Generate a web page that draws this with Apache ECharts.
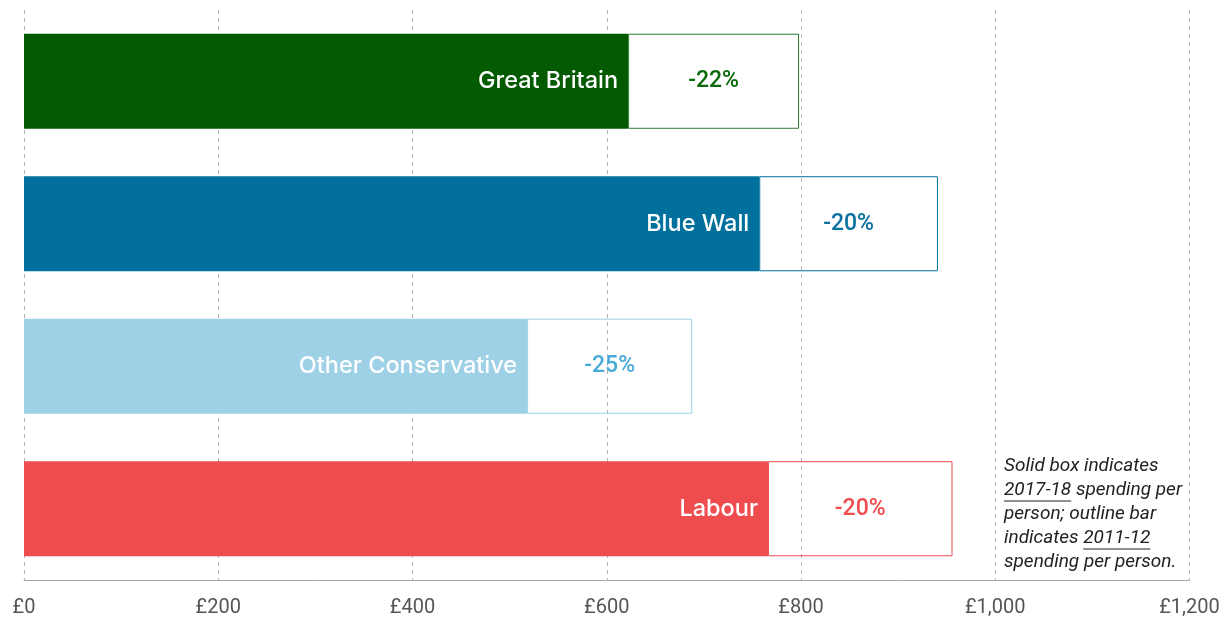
<!DOCTYPE html>
<html>
<head>
<meta charset="utf-8">
<style>
  html, body { margin: 0; padding: 0; background: #fff; }
  #chart { width: 1231px; height: 619px; }
</style>
<script src="https://cdn.jsdelivr.net/npm/echarts@6/dist/echarts.min.js"></script>
</head>
<body>
<div id="chart"></div>
<script>
// Spending per person (£) by area group
const categories = ['Great Britain', 'Blue Wall', 'Other Conservative', 'Labour'];
const spending2017 = [622, 757, 518, 766];   // solid box
const spending2011 = [798, 941, 688, 956];   // outline bar
const fillColors = ['#035a00', '#02709c', '#9ed0e6', '#ef4c4f'];
const outlineColors = ['#2f7a2f', '#02709c', '#9ed0e6', '#ef4c4f'];
const pctColors = ['#0a6a0a', '#0a72a0', '#4aaad8', '#ef4c4f'];
const xTicks = [0, 200, 400, 600, 800, 1000, 1200];

const FONT = 'Roboto, "Noto Sans", sans-serif';
const LABEL_FONT = 'Inter, Roboto, sans-serif';

const pctChange = spending2017.map((v, i) => Math.round((v - spending2011[i]) / spending2011[i] * 100));

const chart = echarts.init(document.getElementById('chart'), null, { renderer: 'canvas' });

const gridLeft = 24, gridRight = 41.5, gridTop = 10, gridBottom = 39;

const option = {
  animation: false,
  backgroundColor: '#ffffff',
  grid: { left: gridLeft, right: gridRight, top: gridTop, bottom: gridBottom, containLabel: false },
  xAxis: {
    type: 'value',
    min: xTicks[0],
    max: xTicks[xTicks.length - 1],
    interval: 200,
    axisLine: { show: true, onZero: false, lineStyle: { color: '#a8a8a8', width: 1 } },
    axisTick: { show: false },
    axisLabel: {
      color: '#555',
      fontFamily: FONT,
      fontSize: 20,
      margin: 18,
      formatter: v => '£' + v.toLocaleString('en-GB')
    },
    splitLine: { show: true, lineStyle: { color: '#b5b5b5', type: [4, 4], width: 1 } }
  },
  yAxis: {
    type: 'category',
    data: categories,
    inverse: true,
    axisLine: { show: false },
    axisTick: { show: false },
    axisLabel: { show: false },
    splitLine: { show: false }
  },
  series: [
    {
      name: '2017-18',
      type: 'bar',
      stack: 'spend',
      barWidth: '66.7%',
      data: spending2017.map((v, i) => ({
        value: v,
        itemStyle: { color: fillColors[i] }
      })),
      label: {
        show: true,
        position: 'insideRight',
        distance: 10,
        color: '#ffffff',
        fontFamily: LABEL_FONT,
        fontWeight: 500,
        fontSize: 23.5,
        formatter: p => categories[p.dataIndex]
      }
    },
    {
      name: '2011-12',
      type: 'bar',
      stack: 'spend',
      barWidth: '66.7%',
      data: spending2011.map((v, i) => ({
        value: v - spending2017[i],
        itemStyle: { color: 'rgba(255,255,255,0)', borderColor: outlineColors[i], borderWidth: 1 },
        label: { color: pctColors[i] }
      })),
      label: {
        show: true,
        position: 'inside',
        fontFamily: FONT,
        fontWeight: 500,
        fontSize: 23,
        formatter: p => pctChange[p.dataIndex] + '%'
      }
    }
  ]
};

chart.setOption(option);

// Explanatory note beside the Labour bar, with underlined years
const noteX = 1004;
const noteY0 = 466;
const lineH = 24;
const noteFont = 'italic 19px ' + FONT;
const noteLines = [
  [{ t: 'Solid box indicates' }],
  [{ t: '2017-18', u: true }, { t: ' spending per' }],
  [{ t: 'person; outline bar' }],
  [{ t: 'indicates ' }, { t: '2011-12', u: true }],
  [{ t: 'spending per person.' }]
];

const ctx = document.createElement('canvas').getContext('2d');
ctx.font = noteFont;
const els = [];
noteLines.forEach((parts, li) => {
  let x = noteX;
  const y = noteY0 + li * lineH;
  parts.forEach(part => {
    const w = ctx.measureText(part.t).width;
    els.push({
      type: 'text',
      x: x, y: y,
      style: {
        text: part.t,
        font: noteFont,
        fill: '#222',
        verticalAlign: 'middle'
      }
    });
    if (part.u) {
      els.push({
        type: 'line',
        shape: { x1: x, y1: y + 11, x2: x + w, y2: y + 11 },
        style: { stroke: '#222', lineWidth: 1 }
      });
    }
    x += w;
  });
});
chart.setOption({ graphic: { elements: [{ type: 'group', children: els }] } });
</script>
</body>
</html>
